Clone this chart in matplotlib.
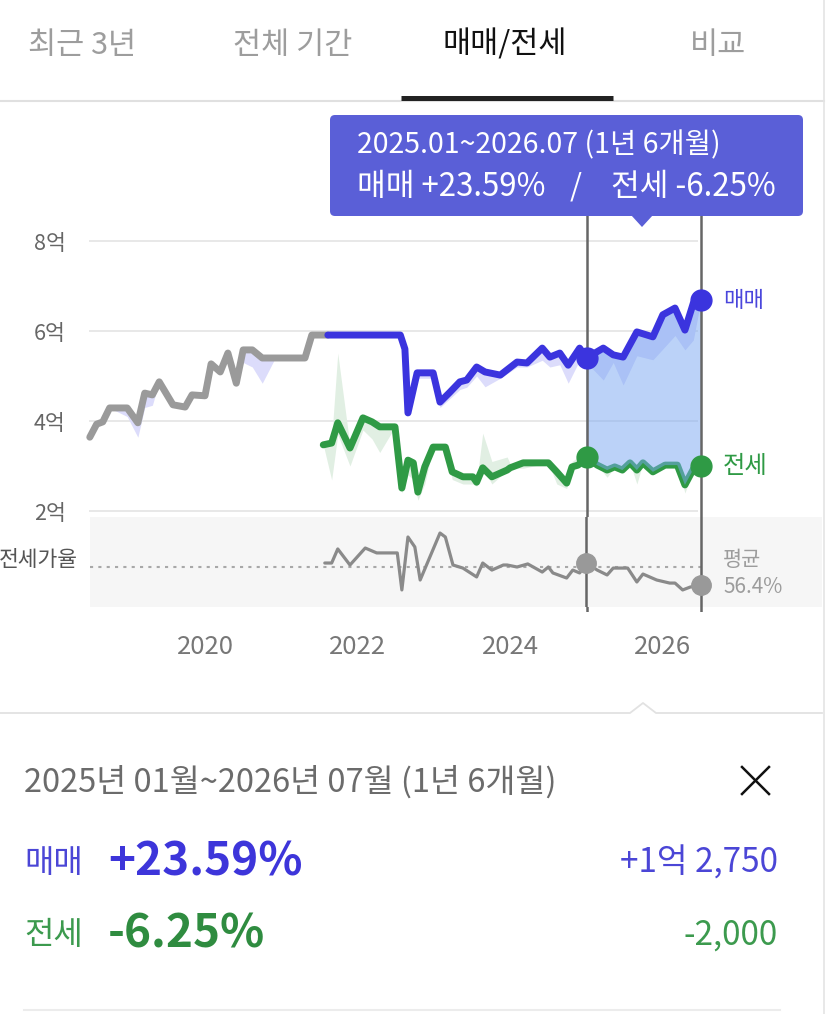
import matplotlib
matplotlib.use("Agg")
import matplotlib.pyplot as plt
from matplotlib.patches import FancyBboxPatch, Polygon

plt.rcParams['font.family'] = ['Noto Sans CJK KR', 'DejaVu Sans']

# ── data (decimal years, 억원 / %) ──────────────────────────────────────────
maemae_t = [2018.49, 2018.58, 2018.66, 2018.75, 2018.98,
            2019.12, 2019.21, 2019.31, 2019.40, 2019.58, 2019.74, 2019.83,
            2020.00, 2020.08, 2020.20, 2020.30, 2020.41, 2020.50, 2020.62, 2020.75, 2020.92,
            2021.31, 2021.40, 2021.61,
            2022.56, 2022.62, 2022.66, 2022.78, 2022.99,
            2023.08, 2023.21, 2023.34, 2023.43, 2023.56, 2023.67, 2023.87,
            2024.09, 2024.22, 2024.42, 2024.52, 2024.65, 2024.76, 2024.91,
            2025.00, 2025.22, 2025.35, 2025.48, 2025.66, 2025.87,
            2026.00, 2026.16, 2026.29, 2026.40, 2026.50]
maemae_v = [3.64, 3.93, 3.98, 4.29, 4.29,
            3.96, 4.62, 4.58, 4.87, 4.36, 4.31, 4.58,
            4.56, 5.27, 5.09, 5.51, 4.84, 5.58, 5.58, 5.40, 5.40,
            5.40, 5.91, 5.91,
            5.91, 5.60, 4.18, 5.07, 5.07,
            4.42, 4.64, 4.87, 4.91, 5.20, 5.09, 5.02,
            5.31, 5.29, 5.62, 5.42, 5.51, 5.24, 5.62,
            5.40, 5.62, 5.47, 5.42, 5.98, 5.87,
            6.36, 6.51, 6.02, 6.62, 6.68]
maemae_lo = [3.64, 3.93, 3.98, 4.29, 4.10,
             3.64, 4.30, 4.35, 4.87, 4.36, 4.31, 4.58,
             4.56, 5.27, 5.09, 5.51, 4.84, 5.30, 5.20, 4.84, 5.40,
             5.40, 5.91, 5.91,
             5.91, 5.60, 4.18, 4.95, 4.95,
             4.30, 4.50, 4.70, 4.75, 5.00, 4.76, 4.95,
             5.20, 5.20, 5.35, 5.20, 5.25, 4.84, 5.35,
             5.30, 4.91, 5.30, 4.80, 5.45, 5.36,
             5.60, 5.90, 5.58, 5.80, 6.68]
maemae_gray_until = 2021.61

jeonse_t = [2021.55, 2021.66, 2021.74, 2021.90,
            2022.07, 2022.19, 2022.29, 2022.49, 2022.58, 2022.66, 2022.73, 2022.79, 2022.88, 2022.99,
            2023.15, 2023.24, 2023.38, 2023.51, 2023.56, 2023.64, 2023.76, 2023.96,
            2024.00, 2024.17, 2024.50, 2024.61, 2024.74, 2024.81, 2024.89,
            2025.00, 2025.14, 2025.27, 2025.37, 2025.47, 2025.57, 2025.66, 2025.74, 2025.87,
            2026.03, 2026.19, 2026.29, 2026.40, 2026.50]
jeonse_v = [3.47, 3.51, 3.96, 3.40,
            4.07, 3.98, 3.87, 3.87, 2.51, 3.13, 3.07, 2.42, 2.98, 3.42,
            3.42, 2.87, 2.76, 2.76, 2.64, 2.96, 2.76, 2.91,
            2.96, 3.07, 3.07, 2.87, 2.62, 2.98, 3.02,
            3.20, 3.02, 2.91, 2.98, 2.91, 3.07, 2.91, 3.07, 2.87,
            3.02, 3.02, 2.58, 2.93, 3.00]
jeonse_lo = [3.47, 2.69, 3.70, 3.00,
             3.80, 3.60, 3.30, 3.87, 2.40, 2.80, 2.70, 2.24, 2.60, 3.42,
             3.42, 2.70, 2.60, 2.60, 2.55, 2.96, 2.60, 2.91,
             2.96, 2.95, 3.07, 2.60, 2.50, 2.98, 3.02,
             3.20, 3.02, 2.75, 2.98, 2.91, 3.07, 2.60, 3.07, 2.87,
             3.02, 3.02, 2.40, 2.93, 3.00]
jeonse_hi = [3.47, 3.60, 5.51, 3.45,
             4.07, 3.98, 3.87, 3.87, 2.70, 3.13, 3.07, 2.42, 2.98, 3.42,
             3.42, 2.87, 2.76, 2.76, 2.64, 3.73, 3.10, 3.20,
             3.05, 3.10, 3.07, 2.87, 2.62, 3.10, 3.20,
             3.20, 3.02, 2.91, 2.98, 2.91, 3.07, 2.91, 3.07, 2.87,
             3.10, 3.02, 2.58, 2.93, 3.00]

ratio_t = [2021.57, 2021.66, 2021.74, 2021.90,
           2022.10, 2022.25, 2022.52, 2022.58, 2022.66, 2022.75, 2022.82,
           2023.08, 2023.15, 2023.25, 2023.38, 2023.56, 2023.64, 2023.76, 2023.91, 2023.96,
           2024.09, 2024.23, 2024.42, 2024.50, 2024.56, 2024.74, 2024.82, 2024.91,
           2025.00, 2025.14, 2025.27, 2025.35, 2025.54, 2025.66, 2025.74, 2025.92,
           2026.09, 2026.16, 2026.26, 2026.36, 2026.50]
ratio_v = [59.0, 59.0, 68.2, 57.7,
           68.8, 65.6, 65.6, 41.4, 76.0, 69.5, 47.9,
           78.6, 76.0, 57.7, 55.7, 49.9, 59.0, 54.4, 57.7, 57.7,
           56.4, 58.4, 53.1, 56.4, 52.5, 49.2, 54.4, 52.5,
           59.0, 54.4, 51.2, 55.7, 55.7, 46.6, 51.8, 47.9,
           45.9, 45.9, 41.4, 43.3, 44.6]
ratio_mean = 56.4

sel_start, sel_end = 2025.00, 2026.50
year_ticks = [2020, 2022, 2024, 2026]
price_ticks = [2, 4, 6, 8]
tab_labels = ["최근 3년", "전체 기간", "매매/전세", "비교"]
tab_active = 2
tip_line1 = "2025.01~2026.07 (1년 6개월)"
tip_maemae = "매매 +23.59%"
tip_jeonse = "전세 -6.25%"
period_label = "2025년 01월~2026년 07월 (1년 6개월)"
maemae_pct, maemae_diff = "+23.59%", "+1억 2,750"
jeonse_pct, jeonse_diff = "-6.25%", "-2,000"

BLUE = "#3b34de"
GREEN = "#2f9a45"
GRAY = "#9a9a9a"
LW = 5.0

# ── layout helpers (pixel boxes, top-left origin) ──────────────────────────
W, H = 827, 1014
fig = plt.figure(figsize=(W / 100, H / 100), dpi=100)


def box(x0, y0, x1, y1):
    return [x0 / W, 1 - y1 / H, (x1 - x0) / W, (y1 - y0) / H]


def yr(px):  # pixel column -> decimal year (2020 at 205px, 76.3px/yr)
    return 2020 + (px - 205) / 76.3


def eok(py):  # pixel row -> 억 (8억 at 241px, 45px per 억)
    return 8 - (py - 241) / 45


# ── main price chart ───────────────────────────────────────────────────────
ax = fig.add_axes(box(80, 215, 712, 612))
ax.set_xlim(yr(80), yr(712))
ax.set_ylim(eok(612), eok(215))
ax.patch.set_alpha(0)
for s in ax.spines.values():
    s.set_visible(False)
ax.hlines(price_ticks, yr(89), yr(698), color="#e8e8e8", lw=1.4, zorder=0)
ax.set_yticks(price_ticks, [f"{v}억" for v in price_ticks])
ax.tick_params(axis="y", length=0, pad=10.5, labelsize=15.5, labelcolor="#666666")
ax.set_xticks(year_ticks, [str(y) for y in year_ticks])
ax.tick_params(axis="x", length=0, pad=16, labelsize=18.5, labelcolor="#777777")

ax.fill_between(maemae_t, maemae_lo, maemae_v, color="#dcdcfb", lw=0, zorder=1)
ax.fill_between(jeonse_t, jeonse_lo, jeonse_hi, color="#e1efe3", lw=0, zorder=1)
ax.plot(jeonse_t, jeonse_v, color=GREEN, lw=LW, solid_joinstyle="round",
        solid_capstyle="round", zorder=2)

# selected-period fill between 매매 and 전세
sm = [(t, v) for t, v in zip(maemae_t, maemae_v) if sel_start <= t <= sel_end]
sj = [(t, v) for t, v in zip(jeonse_t, jeonse_v) if sel_start <= t <= sel_end]
poly = sm + sj[::-1]
ax.fill([p[0] for p in poly], [p[1] for p in poly], color="#79a7f3", alpha=0.5,
        lw=0, zorder=3)

k = maemae_t.index(maemae_gray_until)
ax.plot(maemae_t[:k + 1], maemae_v[:k + 1], color=GRAY, lw=LW,
        solid_joinstyle="round", solid_capstyle="round", zorder=4)
ax.plot(maemae_t[k:], maemae_v[k:], color=BLUE, lw=LW,
        solid_joinstyle="round", solid_capstyle="round", zorder=4)

for t in (sel_start, sel_end):
    ax.axvline(t, color="#666666", lw=1.8, zorder=5)

m0, m1 = maemae_v[maemae_t.index(sel_start)], maemae_v[maemae_t.index(sel_end)]
j0, j1 = jeonse_v[jeonse_t.index(sel_start)], jeonse_v[jeonse_t.index(sel_end)]
ax.plot([sel_start, sel_end], [m0, m1], "o", ms=15, color=BLUE, zorder=6)
ax.plot([sel_start, sel_end], [j0, j1], "o", ms=15, color=GREEN, zorder=6)
ax.annotate("매매", (sel_end, m1), xytext=(16, 0), textcoords="offset points",
            ha="left", va="center", fontsize=16, color="#4a46dc")
ax.annotate("전세", (sel_end, j1), xytext=(16, 0), textcoords="offset points",
            ha="left", va="center", fontsize=17.5, color=GREEN)

# ── 전세가율 panel ─────────────────────────────────────────────────────────
rax = fig.add_axes(box(90, 517, 822, 607))
rax.set_xlim(yr(90), yr(822))
rax.set_ylim(56.4 - 40 / 1.53, 56.4 + 50 / 1.53)
rax.set_facecolor("#f6f6f6")
for s in rax.spines.values():
    s.set_visible(False)
rax.set_xticks([])
rax.set_yticks([])
rax.hlines(ratio_mean, yr(90), yr(706), color="#a8a8a8", lw=1.5,
           linestyles=(0, (1.5, 2.5)), zorder=1)
rax.plot(ratio_t, ratio_v, color="#8a8a8a", lw=2.3, solid_joinstyle="round",
         solid_capstyle="round", zorder=2)
for t in (sel_start, sel_end):
    rax.axvline(t, color="#666666", lw=1.8, zorder=3)
rax.plot([sel_start, sel_end], [ratio_v[ratio_t.index(sel_start)], ratio_v[ratio_t.index(sel_end)]],
         "o", ms=14, color="#999999", zorder=4)
rax.annotate(f"평균\n{ratio_mean}%", (sel_end, ratio_mean), xytext=(16, -4.5),
             textcoords="offset points", ha="left", va="center", fontsize=15,
             color="#9c9c9c", linespacing=1.3)
rax.annotate("전세가율", (0, ratio_mean), xycoords=rax.get_yaxis_transform(),
             xytext=(-8.5, 5), textcoords="offset points", ha="right", va="center",
             fontsize=15.5, color="#555555", annotation_clip=False)

# ── UI chrome overlay (pixel coordinates) ──────────────────────────────────
ov = fig.add_axes([0, 0, 1, 1])
ov.set_xlim(0, W)
ov.set_ylim(H, 0)
ov.axis("off")
ov.set_zorder(10)
ov.patch.set_alpha(0)

for lab, cx, i in zip(tab_labels, [82, 293, 505, 718], range(4)):
    ov.text(cx, 45, lab, ha="center", va="center", fontsize=22,
            color="#111111" if i == tab_active else "#9d9d9d")
ov.plot([0, 824], [101, 101], color="#e0e0e0", lw=1.5)
ov.plot([401, 613], [97.5, 97.5], color="#222222", lw=3.6, solid_capstyle="butt")
ov.plot([824, 824], [0, H], color="#e4e4e4", lw=1.2)

ov.add_patch(FancyBboxPatch((330, 115), 473, 101, boxstyle="round,pad=0,rounding_size=5",
                            fc="#5a5fd7", ec="none"))
ov.add_patch(Polygon([[631, 215], [653, 215], [642, 227]], closed=True, fc="#5a5fd7", ec="none"))
ov.text(357, 145, tip_line1, color="white", fontsize=20.5, va="center")
ov.text(357, 187, tip_maemae, color="white", fontsize=22.5, va="center")
ov.text(576, 187, "/", color="white", fontsize=22, va="center", ha="center")
ov.text(776, 187, tip_jeonse, color="white", fontsize=22.5, va="center", ha="right")

ov.plot([0, 630, 643, 656, 822], [713, 713, 703, 713, 713], color="#e2e2e2", lw=1.3)
ov.text(24, 782, period_label, fontsize=23.5, color="#6b6b6b", va="center")
ov.plot([742, 769], [767, 794], color="#111111", lw=1.8)
ov.plot([742, 769], [794, 767], color="#111111", lw=1.8)

ov.text(24, 863, "매매", fontsize=23, color="#4b46d6", va="center")
ov.text(108, 863, maemae_pct, fontsize=33, weight="bold", color="#3d35da", va="center")
ov.text(778, 863, maemae_diff, fontsize=24, color="#4b46d6", va="center", ha="right")
ov.text(24, 935, "전세", fontsize=23, color="#3c9a4e", va="center")
ov.text(108, 935, jeonse_pct, fontsize=33, weight="bold", color="#2f8c40", va="center")
ov.text(778, 935, jeonse_diff, fontsize=24, color="#3c9a4e", va="center", ha="right")
ov.plot([24, 780], [1010, 1010], color="#ececec", lw=1.5)

fig.savefig("out.png", dpi=100)
